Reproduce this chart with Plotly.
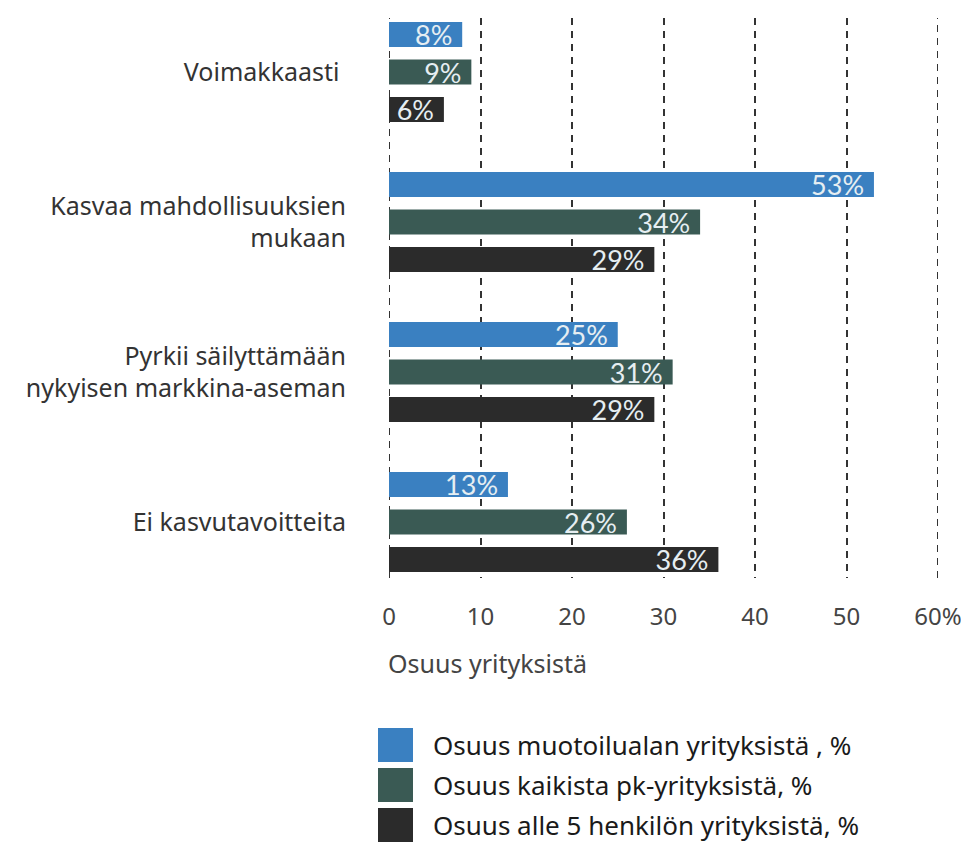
import plotly.graph_objects as go

categories = ["Voimakkaasti ", "Kasvaa mahdollisuuksien<br>mukaan",
              "Pyrkii säilyttämään<br>nykyisen markkina-aseman", "Ei kasvutavoitteita"]
series_names = ["Osuus muotoilualan yrityksistä , %",
                "Osuus kaikista pk-yrityksistä, %",
                "Osuus alle 5 henkilön yrityksistä, %"]
series_values = [
    [8, 53, 25, 13],
    [9, 34, 31, 26],
    [6, 29, 29, 36],
]
colors = ["#3a80c1", "#3a5a54", "#2b2b2b"]
tick_vals = [0, 10, 20, 30, 40, 50, 60]
tick_text = ["0", "10", "20", "30", "40", "50", "60%"]

# page body has an 8px margin; figure coordinates = screen - 8
OFF = 8
W, H = 969 - OFF, 846 - OFF
L, R, T, B = 389 - OFF, 938 - OFF, 18 - OFF, 578 - OFF

fig = go.Figure()
for name, vals, col in zip(series_names, series_values, colors):
    fig.add_trace(go.Bar(
        y=categories, x=vals, name=name, orientation="h",
        marker=dict(color=col, line=dict(width=0)),
        text=[f"{v}%\u00a0" for v in vals], textposition="inside",
        insidetextanchor="end", constraintext="none",
        textfont=dict(family="Lato", size=27, color="#e6eef2"),
        showlegend=False,
    ))

def px(x):
    return (x - OFF - L) / (R - L)

def py(y):
    return (B - (y - OFF)) / (B - T)

shapes = []
for gx in [tick_vals[0], tick_vals[-1]]:
    shapes.append(dict(type="line", xref="x", yref="paper", x0=gx, x1=gx, y0=0, y1=1,
                       layer="below", line=dict(color="#333333", width=2, dash="7px,6px")))
annotations = []
for i, (name, col) in enumerate(zip(series_names, colors)):
    y0 = 728 + i * 40
    shapes.append(dict(type="rect", xref="paper", yref="paper",
                       x0=px(378), x1=px(413), y0=py(y0 + 34), y1=py(y0),
                       fillcolor=col, line=dict(width=0)))
    annotations.append(dict(xref="paper", yref="paper", x=px(431), y=py(y0 + 17),
                            text=name, showarrow=False, xanchor="left", yanchor="middle",
                            font=dict(family="Noto Sans", size=26, color="#1a1a1a")))

annotations.append(dict(xref="paper", yref="paper", x=px(386), y=py(663),
                        text="Osuus yrityksistä", showarrow=False,
                        xanchor="left", yanchor="middle",
                        font=dict(family="Noto Sans", size=25, color="#444444")))

fig.update_layout(
    width=W, height=H,
    margin=dict(l=L, r=W - R, t=T, b=H - B, pad=0),
    paper_bgcolor="white", plot_bgcolor="white",
    barmode="group", bargap=0.25, bargroupgap=0.333,
    shapes=shapes, annotations=annotations,
    xaxis=dict(range=[0, 60], tickvals=tick_vals, ticktext=tick_text,
               showgrid=True, gridcolor="#333333", gridwidth=2, griddash="7px,6px",
               zeroline=False, showline=False, ticks="", automargin=False,
               ticklabelstandoff=22,
               tickfont=dict(family="Noto Sans", size=24, color="#444444")),
    yaxis=dict(range=[3.373, -0.36], showgrid=False, zeroline=False, showline=False,
               ticks="", ticklabelstandoff=42, automargin=False,
               tickfont=dict(family="Noto Sans", size=25, color="#333333")),
)

fig.write_html("out.html")
